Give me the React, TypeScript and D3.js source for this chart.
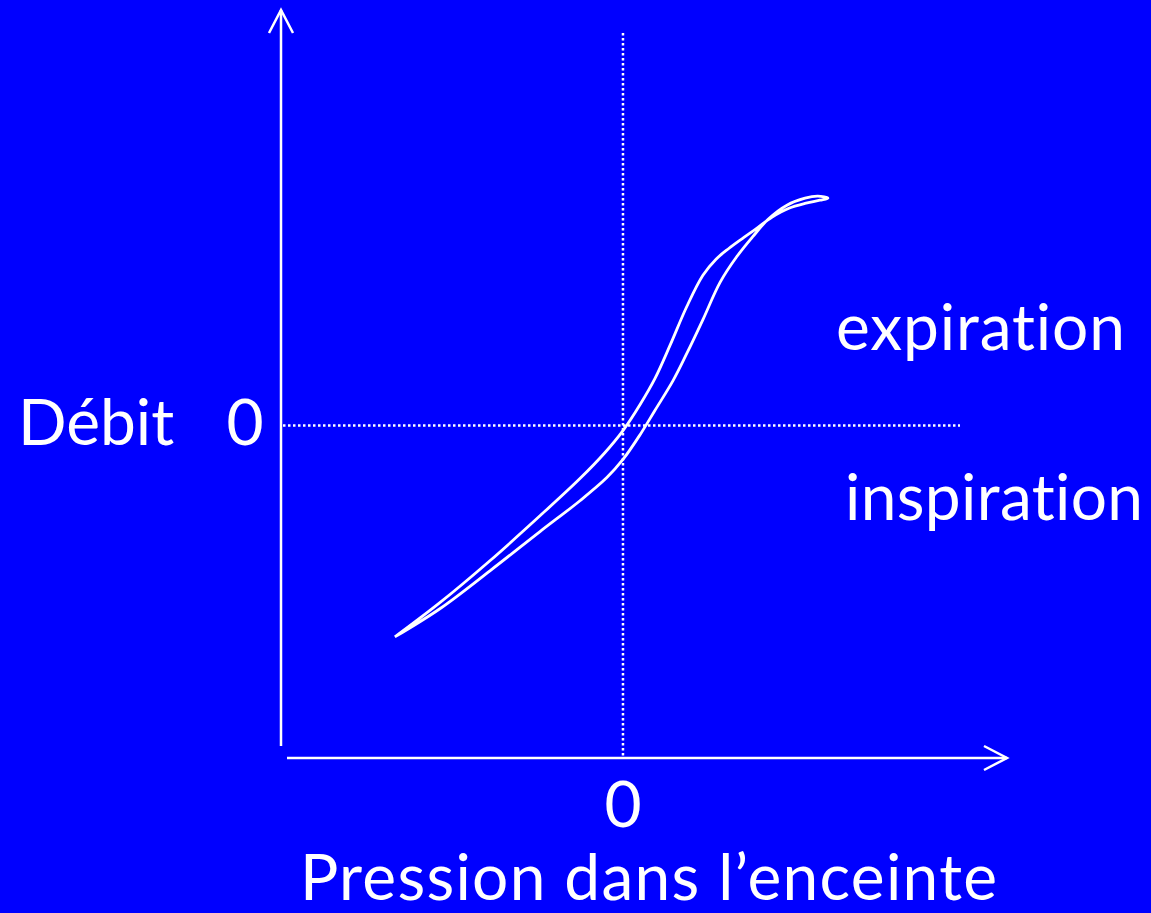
import React from "react";
import * as d3 from "d3";

const W = 1151;
const H = 913;

// Pressure (x) and flow (y) samples of the loop, in chart units
// Upper branch (expiration side), from the lower-left end to the tip
const upperPressure = [-6.79, -5.45, -3.96, -2.47, -1.28, -0.54, 0.0, 0.51, 0.95, 1.40, 1.90, 2.38, 2.77, 3.15, 3.60, 4.02, 4.43, 4.94, 5.45, 5.86, 6.10];
const upperFlow = [-6.30, -5.28, -4.03, -2.69, -1.58, -0.81, -0.15, 0.63, 1.40, 2.39, 3.55, 4.48, 4.96, 5.28, 5.61, 5.91, 6.21, 6.48, 6.63, 6.72, 6.78];
// Lower branch (inspiration side), from the tip back to the lower-left end
const lowerPressure = [6.10, 5.80, 5.42, 4.88, 4.32, 3.87, 3.39, 2.89, 2.38, 1.90, 1.49, 0.95, 0.51, 0.0, -0.48, -1.28, -2.47, -3.96, -5.45, -6.79];
const lowerFlow = [6.78, 6.84, 6.78, 6.57, 6.15, 5.64, 5.04, 4.27, 3.16, 2.15, 1.34, 0.45, -0.27, -1.01, -1.55, -2.24, -3.16, -4.33, -5.46, -6.30];

const xDomain = [-10, 11.46];
const yDomain = [-9.97, 12.39];

const axisLabelX = "Pression dans l\u2019enceinte";
const axisLabelY = "D\u00e9bit";
const zeroLabel = "0";
const upperLabel = "expiration";
const lowerLabel = "inspiration";

export default function App() {
  const x = d3.scaleLinear().domain(xDomain).range([287, 1008]);
  const y = d3.scaleLinear().domain(yDomain).range([760, 10]);

  const pts: [number, number][] = [];
  upperPressure.forEach((p, i) => pts.push([p, upperFlow[i]]));
  lowerPressure.slice(1).forEach((p, i) => pts.push([p, lowerFlow[i + 1]]));

  const line = d3
    .line<[number, number]>()
    .x((d) => x(d[0]))
    .y((d) => y(d[1]))
    .curve(d3.curveCatmullRom.alpha(0.5));

  const x0 = x(0);
  const y0 = y(0);
  const yAxisX = 281;
  const xAxisY = 758;
  const font = "Lato, 'Open Sans', sans-serif";

  return (
    <svg
      width={W}
      height={H}
      style={{ position: "absolute", left: 0, top: 0, display: "block" }}
    >
      <rect x={0} y={0} width={W} height={H} fill="#0000FF" />
      {/* dotted zero lines */}
      <line x1={x0} y1={33} x2={x0} y2={xAxisY} stroke="#fff" strokeWidth={2.5} strokeDasharray="2.5 2.5" />
      <line x1={283} y1={y0} x2={960} y2={y0} stroke="#fff" strokeWidth={2.5} strokeDasharray="2.5 2.5" />
      {/* y axis */}
      <line x1={yAxisX} y1={10} x2={yAxisX} y2={746} stroke="#fff" strokeWidth={2.5} />
      <polyline points={`${yAxisX - 12},33 ${yAxisX},10 ${yAxisX + 12},33`} fill="none" stroke="#fff" strokeWidth={2.5} />
      {/* x axis */}
      <line x1={287} y1={xAxisY} x2={1007} y2={xAxisY} stroke="#fff" strokeWidth={2.5} />
      <polyline points={`984,746 1007,${xAxisY} 984,770`} fill="none" stroke="#fff" strokeWidth={2.5} />
      {/* loop */}
      <path d={line(pts) || ""} fill="none" stroke="#fff" strokeWidth={2.8} strokeLinejoin="round" />
      {/* texts */}
      <g fill="#fff" fontFamily={font} fontSize={64} style={{ fontVariantLigatures: "none" }}>
        <text x={18} y={445}>{axisLabelY}</text>
        <text x={245} y={445} textAnchor="middle">{zeroLabel}</text>
        <text x={x0} y={827} textAnchor="middle">{zeroLabel}</text>
        <text x={300} y={900} textLength={697} lengthAdjust="spacing">{axisLabelX}</text>
        <text x={836} y={350} textLength={289} lengthAdjust="spacing">{upperLabel}</text>
        <text x={845} y={520} textLength={298} lengthAdjust="spacing">{lowerLabel}</text>
      </g>
    </svg>
  );
}
